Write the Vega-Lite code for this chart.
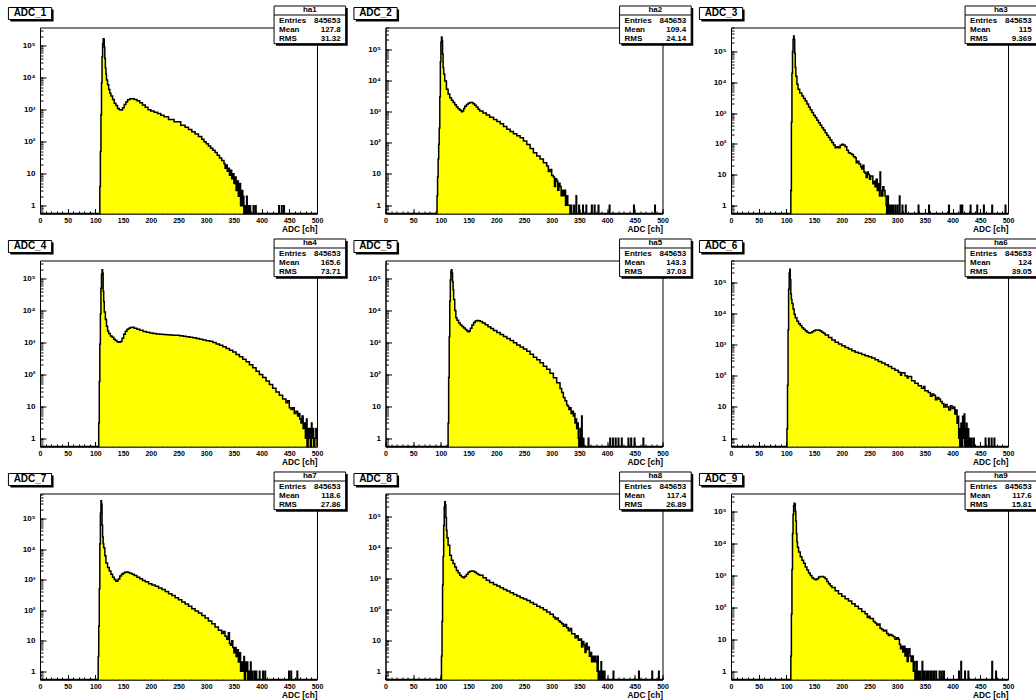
{
"$schema":"https://vega.github.io/schema/vega-lite/v6.json",
"padding":{"left":7,"top":4.5,"right":0,"bottom":0},
"background":"white",
"columns":3,
"spacing":{"row":47,"column":68.5},
"bounds":"flush",
"datasets":{
"st":[
{"p":1,"t":"ADC_1","h":"ha1","v":["845653","127.8","31.32"]},
{"p":2,"t":"ADC_2","h":"ha2","v":["845653","109.4","24.14"]},
{"p":3,"t":"ADC_3","h":"ha3","v":["845653","115","9.369"]},
{"p":4,"t":"ADC_4","h":"ha4","v":["845653","165.6","73.71"]},
{"p":5,"t":"ADC_5","h":"ha5","v":["845653","143.3","37.03"]},
{"p":6,"t":"ADC_6","h":"ha6","v":["845653","124","39.05"]},
{"p":7,"t":"ADC_7","h":"ha7","v":["845653","118.6","27.86"]},
{"p":8,"t":"ADC_8","h":"ha8","v":["845653","117.4","26.89"]},
{"p":9,"t":"ADC_9","h":"ha9","v":["845653","117.6","15.81"]}
],
"h1":[{"x":0,"n":0},{"x":107,"n":0},{"x":108,"n":4},{"x":109,"n":50},{"x":110,"n":700},{"x":111,"n":7000},{"x":112,"n":45000},{"x":113,"n":115000},{"x":114,"n":165000},{"x":115,"n":160000},{"x":116,"n":90000},{"x":117,"n":40000},{"x":118,"n":20000},{"x":119,"n":13000},{"x":120,"n":8500},{"x":122,"n":6000},{"x":124,"n":4300},{"x":126,"n":3300},{"x":128,"n":2700},{"x":131,"n":2100},{"x":134,"n":1600},{"x":137,"n":1350},{"x":140,"n":1100},{"x":143,"n":1000},{"x":146,"n":980},{"x":149,"n":1150},{"x":152,"n":1450},{"x":155,"n":1750},{"x":158,"n":2050},{"x":162,"n":2200},{"x":166,"n":2200},{"x":170,"n":2100},{"x":175,"n":1900},{"x":180,"n":1650},{"x":185,"n":1400},{"x":190,"n":1200},{"x":195,"n":1000},{"x":200,"n":920},{"x":206,"n":840},{"x":212,"n":760},{"x":218,"n":680},{"x":224,"n":610},{"x":232,"n":500},{"x":242,"n":420},{"x":254,"n":330},{"x":262,"n":285},{"x":268,"n":240},{"x":274,"n":205},{"x":280,"n":175},{"x":286,"n":145},{"x":292,"n":120},{"x":296,"n":100},{"x":300,"n":87},{"x":304,"n":74},{"x":308,"n":63},{"x":312,"n":54},{"x":316,"n":46},{"x":320,"n":38},{"x":324,"n":31},{"x":328,"n":26},{"x":332,"n":21},{"x":334,"n":15},{"x":336,"n":19},{"x":338,"n":12},{"x":340,"n":15},{"x":342,"n":9},{"x":344,"n":13},{"x":346,"n":7},{"x":348,"n":10},{"x":350,"n":5},{"x":352,"n":8},{"x":354,"n":3},{"x":356,"n":6},{"x":358,"n":2},{"x":360,"n":5},{"x":362,"n":1},{"x":364,"n":3},{"x":366,"n":1},{"x":367,"n":2},{"x":368,"n":0},{"x":370,"n":1},{"x":371,"n":0},{"x":373,"n":2},{"x":374,"n":0},{"x":376,"n":1},{"x":377,"n":0},{"x":379,"n":1},{"x":380,"n":0},{"x":385,"n":1},{"x":386,"n":0},{"x":389,"n":1},{"x":390,"n":0},{"x":431,"n":1},{"x":432,"n":0},{"x":436,"n":1},{"x":437,"n":0},{"x":440,"n":1},{"x":441,"n":0},{"x":500,"n":0}],
"h2":[{"x":0,"n":0},{"x":92,"n":0},{"x":93,"n":2},{"x":94,"n":8},{"x":95,"n":30},{"x":96,"n":90},{"x":97,"n":300},{"x":98,"n":3000},{"x":99,"n":40000},{"x":100,"n":170000},{"x":101,"n":250000},{"x":102,"n":190000},{"x":103,"n":70000},{"x":104,"n":26000},{"x":105,"n":16000},{"x":107,"n":9600},{"x":110,"n":5200},{"x":113,"n":3700},{"x":116,"n":2800},{"x":119,"n":2300},{"x":122,"n":1950},{"x":125,"n":1650},{"x":128,"n":1400},{"x":131,"n":1230},{"x":134,"n":1100},{"x":137,"n":1000},{"x":139,"n":1050},{"x":141,"n":1250},{"x":143,"n":1500},{"x":146,"n":1700},{"x":149,"n":1850},{"x":152,"n":1950},{"x":155,"n":1950},{"x":158,"n":1800},{"x":161,"n":1600},{"x":164,"n":1400},{"x":167,"n":1200},{"x":170,"n":1050},{"x":176,"n":900},{"x":182,"n":780},{"x":188,"n":660},{"x":195,"n":560},{"x":201,"n":480},{"x":207,"n":410},{"x":213,"n":335},{"x":219,"n":270},{"x":225,"n":230},{"x":231,"n":195},{"x":237,"n":170},{"x":243,"n":145},{"x":249,"n":115},{"x":255,"n":89},{"x":261,"n":66},{"x":267,"n":48},{"x":273,"n":38},{"x":279,"n":30},{"x":285,"n":23},{"x":291,"n":18},{"x":294,"n":12},{"x":297,"n":14},{"x":300,"n":9},{"x":303,"n":8},{"x":305,"n":4},{"x":307,"n":7},{"x":309,"n":6},{"x":311,"n":3},{"x":313,"n":5},{"x":315,"n":4},{"x":317,"n":2},{"x":319,"n":3},{"x":321,"n":2},{"x":323,"n":3},{"x":325,"n":1},{"x":327,"n":2},{"x":329,"n":1},{"x":331,"n":1},{"x":333,"n":0},{"x":335,"n":1},{"x":336,"n":0},{"x":340,"n":1},{"x":341,"n":0},{"x":344,"n":2},{"x":345,"n":0},{"x":349,"n":1},{"x":350,"n":0},{"x":356,"n":1},{"x":357,"n":0},{"x":362,"n":1},{"x":363,"n":0},{"x":372,"n":1},{"x":373,"n":0},{"x":377,"n":1},{"x":378,"n":0},{"x":384,"n":1},{"x":385,"n":0},{"x":404,"n":1},{"x":405,"n":0},{"x":448,"n":1},{"x":449,"n":0},{"x":486,"n":1},{"x":487,"n":0},{"x":500,"n":0}],
"h3":[{"x":0,"n":0},{"x":107,"n":0},{"x":108,"n":3},{"x":109,"n":500},{"x":110,"n":20000},{"x":111,"n":100000},{"x":112,"n":250000},{"x":113,"n":330000},{"x":114,"n":250000},{"x":115,"n":90000},{"x":116,"n":31000},{"x":117,"n":16000},{"x":119,"n":8800},{"x":121,"n":6000},{"x":124,"n":4500},{"x":128,"n":3600},{"x":131,"n":3000},{"x":134,"n":2500},{"x":137,"n":2000},{"x":140,"n":1600},{"x":143,"n":1300},{"x":146,"n":1050},{"x":149,"n":860},{"x":152,"n":715},{"x":155,"n":590},{"x":158,"n":490},{"x":161,"n":400},{"x":164,"n":335},{"x":167,"n":280},{"x":170,"n":230},{"x":173,"n":190},{"x":176,"n":160},{"x":179,"n":132},{"x":182,"n":110},{"x":185,"n":92},{"x":188,"n":75},{"x":191,"n":80},{"x":194,"n":75},{"x":197,"n":90},{"x":200,"n":96},{"x":203,"n":92},{"x":206,"n":80},{"x":209,"n":62},{"x":212,"n":51},{"x":215,"n":48},{"x":218,"n":45},{"x":221,"n":38},{"x":224,"n":35},{"x":226,"n":24},{"x":228,"n":27},{"x":231,"n":22},{"x":234,"n":18},{"x":236,"n":15},{"x":238,"n":20},{"x":240,"n":12},{"x":242,"n":11},{"x":244,"n":8},{"x":246,"n":12},{"x":248,"n":10},{"x":250,"n":7},{"x":252,"n":9},{"x":254,"n":9},{"x":256,"n":5},{"x":258,"n":6},{"x":260,"n":4},{"x":262,"n":7},{"x":264,"n":3},{"x":266,"n":5},{"x":268,"n":2},{"x":269,"n":12},{"x":270,"n":3},{"x":272,"n":2},{"x":274,"n":4},{"x":276,"n":3},{"x":278,"n":2},{"x":280,"n":1},{"x":281,"n":0},{"x":283,"n":2},{"x":284,"n":0},{"x":286,"n":1},{"x":287,"n":0},{"x":289,"n":1},{"x":290,"n":0},{"x":292,"n":1},{"x":293,"n":0},{"x":296,"n":1},{"x":297,"n":0},{"x":300,"n":1},{"x":301,"n":0},{"x":304,"n":2},{"x":305,"n":0},{"x":309,"n":1},{"x":310,"n":0},{"x":315,"n":1},{"x":316,"n":0},{"x":338,"n":1},{"x":339,"n":0},{"x":357,"n":1},{"x":358,"n":0},{"x":393,"n":1},{"x":394,"n":0},{"x":414,"n":1},{"x":415,"n":0},{"x":417,"n":1},{"x":418,"n":0},{"x":432,"n":1},{"x":433,"n":0},{"x":444,"n":1},{"x":445,"n":0},{"x":456,"n":1},{"x":457,"n":0},{"x":471,"n":1},{"x":472,"n":0},{"x":495,"n":1},{"x":496,"n":0},{"x":500,"n":0}],
"h4":[{"x":0,"n":0},{"x":105,"n":0},{"x":106,"n":3},{"x":107,"n":60},{"x":108,"n":900},{"x":109,"n":8000},{"x":110,"n":50000},{"x":111,"n":140000},{"x":112,"n":190000},{"x":113,"n":150000},{"x":114,"n":40000},{"x":115,"n":19000},{"x":116,"n":9000},{"x":118,"n":5200},{"x":120,"n":3200},{"x":122,"n":2300},{"x":124,"n":1900},{"x":127,"n":1600},{"x":130,"n":1450},{"x":133,"n":1250},{"x":136,"n":1150},{"x":139,"n":1060},{"x":142,"n":1020},{"x":145,"n":1080},{"x":148,"n":1350},{"x":151,"n":1800},{"x":154,"n":2250},{"x":157,"n":2600},{"x":160,"n":2800},{"x":163,"n":2950},{"x":166,"n":3000},{"x":170,"n":2800},{"x":175,"n":2600},{"x":180,"n":2400},{"x":186,"n":2200},{"x":192,"n":2100},{"x":198,"n":1980},{"x":204,"n":1920},{"x":210,"n":1850},{"x":216,"n":1800},{"x":222,"n":1770},{"x":228,"n":1740},{"x":234,"n":1700},{"x":240,"n":1690},{"x":246,"n":1670},{"x":252,"n":1620},{"x":258,"n":1570},{"x":264,"n":1520},{"x":270,"n":1460},{"x":276,"n":1400},{"x":282,"n":1320},{"x":288,"n":1260},{"x":294,"n":1200},{"x":300,"n":1140},{"x":306,"n":1090},{"x":312,"n":1000},{"x":318,"n":900},{"x":324,"n":820},{"x":330,"n":730},{"x":336,"n":650},{"x":342,"n":570},{"x":348,"n":500},{"x":354,"n":420},{"x":360,"n":360},{"x":366,"n":300},{"x":372,"n":250},{"x":378,"n":200},{"x":384,"n":160},{"x":390,"n":125},{"x":396,"n":100},{"x":402,"n":80},{"x":408,"n":62},{"x":414,"n":48},{"x":420,"n":37},{"x":426,"n":28},{"x":432,"n":22},{"x":438,"n":17},{"x":444,"n":13},{"x":447,"n":15},{"x":450,"n":9},{"x":453,"n":8},{"x":456,"n":9},{"x":459,"n":6},{"x":462,"n":7},{"x":465,"n":5},{"x":467,"n":6},{"x":469,"n":4},{"x":471,"n":3},{"x":473,"n":5},{"x":475,"n":2},{"x":477,"n":3},{"x":479,"n":1},{"x":481,"n":4},{"x":482,"n":0},{"x":484,"n":2},{"x":485,"n":1},{"x":487,"n":2},{"x":488,"n":0},{"x":490,"n":3},{"x":491,"n":1},{"x":493,"n":2},{"x":494,"n":0},{"x":496,"n":1},{"x":498,"n":2},{"x":499,"n":1},{"x":500,"n":0}],
"h5":[{"x":0,"n":0},{"x":112,"n":0},{"x":113,"n":3},{"x":114,"n":80},{"x":115,"n":1500},{"x":116,"n":20000},{"x":117,"n":90000},{"x":118,"n":170000},{"x":119,"n":190000},{"x":120,"n":150000},{"x":121,"n":80000},{"x":122,"n":45000},{"x":123,"n":22000},{"x":125,"n":10000},{"x":127,"n":6000},{"x":129,"n":5000},{"x":132,"n":4100},{"x":135,"n":3500},{"x":138,"n":3150},{"x":141,"n":2850},{"x":144,"n":2550},{"x":147,"n":2300},{"x":149,"n":2150},{"x":151,"n":2300},{"x":153,"n":2800},{"x":156,"n":3500},{"x":159,"n":4200},{"x":162,"n":4700},{"x":165,"n":4900},{"x":168,"n":4800},{"x":171,"n":4500},{"x":175,"n":4100},{"x":180,"n":3600},{"x":185,"n":3100},{"x":190,"n":2750},{"x":195,"n":2370},{"x":201,"n":2050},{"x":207,"n":1780},{"x":213,"n":1540},{"x":219,"n":1330},{"x":225,"n":1150},{"x":231,"n":980},{"x":237,"n":840},{"x":243,"n":715},{"x":249,"n":620},{"x":255,"n":535},{"x":261,"n":430},{"x":267,"n":347},{"x":273,"n":285},{"x":279,"n":230},{"x":285,"n":180},{"x":291,"n":144},{"x":297,"n":108},{"x":303,"n":79},{"x":309,"n":55},{"x":315,"n":36},{"x":318,"n":27},{"x":321,"n":19},{"x":324,"n":15},{"x":327,"n":11},{"x":329,"n":10},{"x":331,"n":8},{"x":333,"n":9},{"x":335,"n":6},{"x":337,"n":7},{"x":339,"n":5},{"x":341,"n":6},{"x":342,"n":3},{"x":344,"n":4},{"x":345,"n":2},{"x":347,"n":3},{"x":348,"n":1},{"x":349,"n":0},{"x":351,"n":2},{"x":352,"n":0},{"x":354,"n":5},{"x":355,"n":0},{"x":357,"n":1},{"x":358,"n":0},{"x":366,"n":1},{"x":367,"n":0},{"x":405,"n":1},{"x":406,"n":0},{"x":410,"n":1},{"x":411,"n":0},{"x":415,"n":1},{"x":416,"n":0},{"x":420,"n":1},{"x":421,"n":0},{"x":426,"n":1},{"x":427,"n":0},{"x":438,"n":1},{"x":439,"n":0},{"x":443,"n":1},{"x":444,"n":0},{"x":449,"n":1},{"x":450,"n":0},{"x":465,"n":1},{"x":466,"n":0},{"x":500,"n":0}],
"h6":[{"x":0,"n":0},{"x":100,"n":0},{"x":101,"n":2},{"x":102,"n":50},{"x":103,"n":3000},{"x":104,"n":60000},{"x":105,"n":200000},{"x":106,"n":260000},{"x":107,"n":120000},{"x":108,"n":42000},{"x":109,"n":28000},{"x":110,"n":21000},{"x":112,"n":14000},{"x":114,"n":9500},{"x":116,"n":7300},{"x":119,"n":5600},{"x":122,"n":4700},{"x":125,"n":4100},{"x":128,"n":3500},{"x":131,"n":3100},{"x":134,"n":2800},{"x":137,"n":2500},{"x":140,"n":2350},{"x":143,"n":2400},{"x":146,"n":2600},{"x":149,"n":2800},{"x":152,"n":2950},{"x":155,"n":2950},{"x":158,"n":2900},{"x":161,"n":2750},{"x":164,"n":2500},{"x":167,"n":2300},{"x":170,"n":2050},{"x":176,"n":1700},{"x":182,"n":1400},{"x":188,"n":1200},{"x":194,"n":1050},{"x":200,"n":920},{"x":206,"n":815},{"x":212,"n":720},{"x":218,"n":635},{"x":224,"n":575},{"x":230,"n":525},{"x":236,"n":480},{"x":242,"n":440},{"x":248,"n":405},{"x":254,"n":370},{"x":260,"n":330},{"x":266,"n":290},{"x":272,"n":258},{"x":278,"n":227},{"x":284,"n":198},{"x":290,"n":172},{"x":296,"n":150},{"x":302,"n":130},{"x":306,"n":105},{"x":308,"n":125},{"x":314,"n":100},{"x":318,"n":85},{"x":320,"n":95},{"x":326,"n":69},{"x":332,"n":58},{"x":338,"n":48},{"x":344,"n":40},{"x":348,"n":45},{"x":350,"n":33},{"x":356,"n":29},{"x":360,"n":22},{"x":363,"n":26},{"x":366,"n":24},{"x":369,"n":17},{"x":372,"n":20},{"x":375,"n":18},{"x":378,"n":15},{"x":381,"n":13},{"x":384,"n":10},{"x":387,"n":12},{"x":390,"n":10},{"x":393,"n":8},{"x":396,"n":11},{"x":399,"n":9},{"x":402,"n":10},{"x":404,"n":6},{"x":406,"n":8},{"x":408,"n":3},{"x":410,"n":5},{"x":411,"n":1},{"x":412,"n":2},{"x":413,"n":0},{"x":415,"n":3},{"x":416,"n":0},{"x":418,"n":5},{"x":419,"n":1},{"x":421,"n":6},{"x":422,"n":0},{"x":424,"n":2},{"x":425,"n":3},{"x":426,"n":0},{"x":428,"n":2},{"x":429,"n":0},{"x":431,"n":1},{"x":432,"n":0},{"x":434,"n":1},{"x":435,"n":0},{"x":438,"n":1},{"x":439,"n":0},{"x":459,"n":1},{"x":460,"n":0},{"x":465,"n":1},{"x":466,"n":0},{"x":470,"n":1},{"x":471,"n":0},{"x":475,"n":1},{"x":476,"n":0},{"x":500,"n":0}],
"h7":[{"x":0,"n":0},{"x":104,"n":0},{"x":105,"n":3},{"x":106,"n":30},{"x":107,"n":500},{"x":108,"n":15000},{"x":109,"n":150000},{"x":110,"n":380000},{"x":111,"n":300000},{"x":112,"n":60000},{"x":113,"n":25000},{"x":114,"n":15000},{"x":115,"n":11000},{"x":117,"n":6000},{"x":119,"n":3500},{"x":122,"n":2500},{"x":125,"n":1900},{"x":128,"n":1500},{"x":131,"n":1200},{"x":134,"n":1000},{"x":137,"n":880},{"x":139,"n":900},{"x":141,"n":1050},{"x":144,"n":1300},{"x":147,"n":1500},{"x":150,"n":1650},{"x":153,"n":1750},{"x":156,"n":1780},{"x":159,"n":1700},{"x":162,"n":1600},{"x":166,"n":1490},{"x":170,"n":1350},{"x":175,"n":1200},{"x":180,"n":1060},{"x":185,"n":940},{"x":190,"n":850},{"x":196,"n":735},{"x":202,"n":670},{"x":208,"n":600},{"x":214,"n":530},{"x":220,"n":470},{"x":226,"n":410},{"x":232,"n":346},{"x":238,"n":300},{"x":244,"n":256},{"x":250,"n":220},{"x":256,"n":184},{"x":262,"n":158},{"x":268,"n":133},{"x":274,"n":110},{"x":280,"n":93},{"x":286,"n":80},{"x":292,"n":67},{"x":298,"n":55},{"x":304,"n":44},{"x":310,"n":36},{"x":316,"n":28},{"x":322,"n":22},{"x":328,"n":17},{"x":331,"n":20},{"x":334,"n":14},{"x":337,"n":11},{"x":340,"n":18},{"x":342,"n":8},{"x":344,"n":7},{"x":346,"n":10},{"x":348,"n":6},{"x":350,"n":4},{"x":352,"n":6},{"x":354,"n":3},{"x":356,"n":5},{"x":358,"n":2},{"x":360,"n":4},{"x":362,"n":1},{"x":364,"n":2},{"x":366,"n":1},{"x":368,"n":3},{"x":369,"n":0},{"x":371,"n":2},{"x":372,"n":1},{"x":374,"n":2},{"x":375,"n":0},{"x":377,"n":1},{"x":378,"n":0},{"x":380,"n":2},{"x":381,"n":0},{"x":383,"n":1},{"x":384,"n":0},{"x":387,"n":1},{"x":388,"n":0},{"x":390,"n":1},{"x":391,"n":0},{"x":396,"n":1},{"x":397,"n":0},{"x":402,"n":1},{"x":403,"n":0},{"x":406,"n":1},{"x":407,"n":0},{"x":449,"n":1},{"x":450,"n":0},{"x":453,"n":1},{"x":454,"n":0},{"x":464,"n":1},{"x":465,"n":0},{"x":500,"n":0}],
"h8":[{"x":0,"n":0},{"x":100,"n":0},{"x":101,"n":3},{"x":102,"n":40},{"x":103,"n":600},{"x":104,"n":5000},{"x":105,"n":50000},{"x":106,"n":200000},{"x":107,"n":290000},{"x":108,"n":230000},{"x":109,"n":90000},{"x":110,"n":35000},{"x":111,"n":20000},{"x":113,"n":11500},{"x":116,"n":5500},{"x":119,"n":3800},{"x":122,"n":2950},{"x":125,"n":2300},{"x":128,"n":1780},{"x":131,"n":1500},{"x":134,"n":1240},{"x":137,"n":1120},{"x":140,"n":1040},{"x":143,"n":1150},{"x":146,"n":1350},{"x":149,"n":1550},{"x":152,"n":1660},{"x":155,"n":1700},{"x":158,"n":1660},{"x":161,"n":1550},{"x":164,"n":1420},{"x":167,"n":1320},{"x":170,"n":1240},{"x":176,"n":1030},{"x":182,"n":850},{"x":188,"n":730},{"x":195,"n":630},{"x":201,"n":560},{"x":207,"n":495},{"x":213,"n":435},{"x":219,"n":385},{"x":225,"n":340},{"x":231,"n":300},{"x":237,"n":265},{"x":243,"n":235},{"x":249,"n":212},{"x":255,"n":192},{"x":261,"n":165},{"x":267,"n":143},{"x":273,"n":125},{"x":279,"n":111},{"x":285,"n":95},{"x":291,"n":81},{"x":297,"n":68},{"x":303,"n":56},{"x":306,"n":48},{"x":309,"n":52},{"x":312,"n":42},{"x":315,"n":38},{"x":318,"n":34},{"x":321,"n":28},{"x":324,"n":32},{"x":327,"n":25},{"x":330,"n":20},{"x":333,"n":24},{"x":336,"n":16},{"x":339,"n":16},{"x":342,"n":12},{"x":345,"n":14},{"x":348,"n":10},{"x":351,"n":11},{"x":354,"n":6},{"x":356,"n":9},{"x":358,"n":7},{"x":360,"n":4},{"x":362,"n":8},{"x":364,"n":5},{"x":366,"n":6},{"x":368,"n":3},{"x":370,"n":4},{"x":372,"n":2},{"x":374,"n":3},{"x":376,"n":2},{"x":378,"n":3},{"x":380,"n":2},{"x":382,"n":1},{"x":383,"n":3},{"x":384,"n":0},{"x":386,"n":1},{"x":387,"n":0},{"x":389,"n":2},{"x":390,"n":0},{"x":392,"n":1},{"x":393,"n":0},{"x":395,"n":1},{"x":396,"n":0},{"x":411,"n":1},{"x":412,"n":0},{"x":457,"n":1},{"x":458,"n":0},{"x":481,"n":1},{"x":482,"n":0},{"x":493,"n":1},{"x":494,"n":0},{"x":500,"n":0}],
"h9":[{"x":0,"n":0},{"x":107,"n":0},{"x":108,"n":3},{"x":109,"n":60},{"x":110,"n":1500},{"x":111,"n":20000},{"x":112,"n":80000},{"x":113,"n":150000},{"x":114,"n":180000},{"x":115,"n":170000},{"x":116,"n":100000},{"x":117,"n":50000},{"x":118,"n":20000},{"x":119,"n":11000},{"x":120,"n":7500},{"x":122,"n":5300},{"x":125,"n":3800},{"x":128,"n":2930},{"x":131,"n":2350},{"x":134,"n":1800},{"x":137,"n":1450},{"x":140,"n":1170},{"x":143,"n":980},{"x":146,"n":830},{"x":149,"n":760},{"x":152,"n":720},{"x":155,"n":780},{"x":158,"n":880},{"x":161,"n":910},{"x":164,"n":915},{"x":167,"n":870},{"x":170,"n":780},{"x":173,"n":640},{"x":176,"n":540},{"x":179,"n":470},{"x":182,"n":410},{"x":188,"n":330},{"x":194,"n":263},{"x":200,"n":220},{"x":206,"n":185},{"x":212,"n":155},{"x":218,"n":129},{"x":224,"n":108},{"x":230,"n":89},{"x":236,"n":74},{"x":242,"n":62},{"x":246,"n":48},{"x":248,"n":52},{"x":251,"n":44},{"x":254,"n":44},{"x":257,"n":36},{"x":260,"n":32},{"x":263,"n":28},{"x":266,"n":30},{"x":269,"n":22},{"x":272,"n":20},{"x":275,"n":18},{"x":278,"n":19},{"x":281,"n":15},{"x":284,"n":13},{"x":287,"n":14},{"x":290,"n":13},{"x":293,"n":12},{"x":296,"n":10},{"x":299,"n":11},{"x":302,"n":10},{"x":304,"n":7},{"x":306,"n":5},{"x":308,"n":6},{"x":310,"n":4},{"x":312,"n":6},{"x":314,"n":3},{"x":316,"n":5},{"x":318,"n":2},{"x":320,"n":4},{"x":321,"n":5},{"x":323,"n":3},{"x":325,"n":2},{"x":327,"n":3},{"x":329,"n":1},{"x":331,"n":2},{"x":332,"n":0},{"x":334,"n":1},{"x":335,"n":2},{"x":336,"n":0},{"x":338,"n":1},{"x":339,"n":0},{"x":341,"n":1},{"x":342,"n":0},{"x":345,"n":2},{"x":346,"n":0},{"x":348,"n":1},{"x":349,"n":0},{"x":352,"n":1},{"x":353,"n":0},{"x":355,"n":1},{"x":356,"n":0},{"x":359,"n":1},{"x":360,"n":0},{"x":362,"n":1},{"x":363,"n":0},{"x":366,"n":1},{"x":367,"n":0},{"x":370,"n":1},{"x":371,"n":0},{"x":376,"n":1},{"x":377,"n":0},{"x":380,"n":1},{"x":381,"n":0},{"x":384,"n":1},{"x":385,"n":0},{"x":411,"n":1},{"x":412,"n":0},{"x":415,"n":2},{"x":416,"n":0},{"x":422,"n":1},{"x":423,"n":0},{"x":428,"n":1},{"x":429,"n":0},{"x":471,"n":2},{"x":472,"n":0},{"x":478,"n":1},{"x":479,"n":0},{"x":500,"n":0}]
},
"concat":[
{"width":277,"height":186,"layer":[
 {"data":{"name":"h1"},"layer":[
  {"mark":{"type":"area","color":"#ffff00","interpolate":"step-after","invalid":null},"encoding":{"x":{"field":"x","type":"quantitative","scale":{"domain":[0,500],"nice":false,"zero":false},"axis":{"title":"ADC [ch]","orient":"bottom"}},"y":{"field":"n","type":"quantitative","stack":null,"scale":{"type":"log","domain":[0.577,370000],"nice":false,"clamp":true},"axis":{"title":null,"orient":"left","values":[1,10,100,1000,10000,100000],"labelExpr":"datum.value<5?'1':datum.value<50?'10':'10'+['²','³','⁴','⁵'][round(log(datum.value)/LN10)-2]"}}}},
  {"mark":{"type":"line","color":"black","strokeWidth":1.5,"interpolate":"step-after","invalid":null},"encoding":{"x":{"field":"x","type":"quantitative","axis":{"orient":"bottom","title":null,"labels":false,"domain":false,"tickCount":50,"tickSize":-2.5}},"y":{"field":"n","type":"quantitative","axis":{"orient":"left","title":null,"labels":false,"domain":false,"tickCount":20,"tickSize":-3}}}}
 ],"resolve":{"axis":{"x":"independent","y":"independent"}}},
 {"data":{"name":"st"},"transform":[{"filter":"datum.p==1"}],"layer":[
  {"mark":{"type":"rect","color":"black"},"encoding":{"x":{"datum":0.852,"scale":{"domain":[0,1]},"axis":null},"x2":{"datum":1.111},"y":{"datum":1.1048,"scale":{"domain":[0,1]},"axis":null},"y2":{"datum":0.902}}},
  {"mark":{"type":"rect","fill":"white","stroke":"black","strokeWidth":1},"encoding":{"x":{"datum":0.845,"axis":null},"x2":{"datum":1.1036},"y":{"datum":1.1156,"axis":null},"y2":{"datum":0.913}}},
  {"mark":{"type":"rule","color":"black","strokeWidth":1},"encoding":{"x":{"datum":0.845,"axis":null},"x2":{"datum":1.1036},"y":{"datum":1.0672,"axis":null}}},
  {"mark":{"type":"text","align":"center","baseline":"middle"},"encoding":{"x":{"datum":0.974,"axis":null},"y":{"datum":1.094,"axis":null},"text":{"field":"h","type":"nominal"}}},
  {"mark":{"type":"text","align":"left","baseline":"alphabetic","lineHeight":9},"encoding":{"x":{"datum":0.863,"axis":null},"y":{"datum":1.023,"axis":null},"text":{"value":["Entries","Mean","RMS"]}}},
  {"mark":{"type":"text","align":"right","baseline":"alphabetic","lineHeight":9},"encoding":{"x":{"datum":1.0856,"axis":null},"y":{"datum":1.023,"axis":null},"text":{"field":"v","type":"nominal"}}},
  {"mark":{"type":"rect","color":"black"},"encoding":{"x":{"datum":-0.107,"axis":null},"x2":{"datum":0.049},"y":{"datum":1.0968,"axis":null},"y2":{"datum":1.0323}}},
  {"mark":{"type":"rect","fill":"white","stroke":"black","strokeWidth":1},"encoding":{"x":{"datum":-0.114,"axis":null},"x2":{"datum":0.042},"y":{"datum":1.1075,"axis":null},"y2":{"datum":1.043}}},
  {"mark":{"type":"text","align":"center","baseline":"alphabetic","fontSize":10},"encoding":{"x":{"datum":-0.036,"axis":null},"y":{"datum":1.0645,"axis":null},"text":{"field":"t","type":"nominal"}}}
 ]}
],"resolve":{"scale":{"x":"independent","y":"independent"}}},
{"width":277,"height":186,"layer":[
 {"data":{"name":"h2"},"layer":[
  {"mark":{"type":"area","color":"#ffff00","interpolate":"step-after","invalid":null},"encoding":{"x":{"field":"x","type":"quantitative","scale":{"domain":[0,500],"nice":false,"zero":false},"axis":{"title":"ADC [ch]","orient":"bottom"}},"y":{"field":"n","type":"quantitative","stack":null,"scale":{"type":"log","domain":[0.54,500000],"nice":false,"clamp":true},"axis":{"title":null,"orient":"left","values":[1,10,100,1000,10000,100000],"labelExpr":"datum.value<5?'1':datum.value<50?'10':'10'+['²','³','⁴','⁵'][round(log(datum.value)/LN10)-2]"}}}},
  {"mark":{"type":"line","color":"black","strokeWidth":1.5,"interpolate":"step-after","invalid":null},"encoding":{"x":{"field":"x","type":"quantitative","axis":{"orient":"bottom","title":null,"labels":false,"domain":false,"tickCount":50,"tickSize":-2.5}},"y":{"field":"n","type":"quantitative","axis":{"orient":"left","title":null,"labels":false,"domain":false,"tickCount":20,"tickSize":-3}}}}
 ],"resolve":{"axis":{"x":"independent","y":"independent"}}},
 {"data":{"name":"st"},"transform":[{"filter":"datum.p==2"}],"layer":[
  {"mark":{"type":"rect","color":"black"},"encoding":{"x":{"datum":0.852,"scale":{"domain":[0,1]},"axis":null},"x2":{"datum":1.111},"y":{"datum":1.1048,"scale":{"domain":[0,1]},"axis":null},"y2":{"datum":0.902}}},
  {"mark":{"type":"rect","fill":"white","stroke":"black","strokeWidth":1},"encoding":{"x":{"datum":0.845,"axis":null},"x2":{"datum":1.1036},"y":{"datum":1.1156,"axis":null},"y2":{"datum":0.913}}},
  {"mark":{"type":"rule","color":"black","strokeWidth":1},"encoding":{"x":{"datum":0.845,"axis":null},"x2":{"datum":1.1036},"y":{"datum":1.0672,"axis":null}}},
  {"mark":{"type":"text","align":"center","baseline":"middle"},"encoding":{"x":{"datum":0.974,"axis":null},"y":{"datum":1.094,"axis":null},"text":{"field":"h","type":"nominal"}}},
  {"mark":{"type":"text","align":"left","baseline":"alphabetic","lineHeight":9},"encoding":{"x":{"datum":0.863,"axis":null},"y":{"datum":1.023,"axis":null},"text":{"value":["Entries","Mean","RMS"]}}},
  {"mark":{"type":"text","align":"right","baseline":"alphabetic","lineHeight":9},"encoding":{"x":{"datum":1.0856,"axis":null},"y":{"datum":1.023,"axis":null},"text":{"field":"v","type":"nominal"}}},
  {"mark":{"type":"rect","color":"black"},"encoding":{"x":{"datum":-0.107,"axis":null},"x2":{"datum":0.049},"y":{"datum":1.0968,"axis":null},"y2":{"datum":1.0323}}},
  {"mark":{"type":"rect","fill":"white","stroke":"black","strokeWidth":1},"encoding":{"x":{"datum":-0.114,"axis":null},"x2":{"datum":0.042},"y":{"datum":1.1075,"axis":null},"y2":{"datum":1.043}}},
  {"mark":{"type":"text","align":"center","baseline":"alphabetic","fontSize":10},"encoding":{"x":{"datum":-0.036,"axis":null},"y":{"datum":1.0645,"axis":null},"text":{"field":"t","type":"nominal"}}}
 ]}
],"resolve":{"scale":{"x":"independent","y":"independent"}}},
{"width":277,"height":186,"layer":[
 {"data":{"name":"h3"},"layer":[
  {"mark":{"type":"area","color":"#ffff00","interpolate":"step-after","invalid":null},"encoding":{"x":{"field":"x","type":"quantitative","scale":{"domain":[0,500],"nice":false,"zero":false},"axis":{"title":"ADC [ch]","orient":"bottom"}},"y":{"field":"n","type":"quantitative","stack":null,"scale":{"type":"log","domain":[0.534,620000],"nice":false,"clamp":true},"axis":{"title":null,"orient":"left","values":[1,10,100,1000,10000,100000],"labelExpr":"datum.value<5?'1':datum.value<50?'10':'10'+['²','³','⁴','⁵'][round(log(datum.value)/LN10)-2]"}}}},
  {"mark":{"type":"line","color":"black","strokeWidth":1.5,"interpolate":"step-after","invalid":null},"encoding":{"x":{"field":"x","type":"quantitative","axis":{"orient":"bottom","title":null,"labels":false,"domain":false,"tickCount":50,"tickSize":-2.5}},"y":{"field":"n","type":"quantitative","axis":{"orient":"left","title":null,"labels":false,"domain":false,"tickCount":20,"tickSize":-3}}}}
 ],"resolve":{"axis":{"x":"independent","y":"independent"}}},
 {"data":{"name":"st"},"transform":[{"filter":"datum.p==3"}],"layer":[
  {"mark":{"type":"rect","color":"black"},"encoding":{"x":{"datum":0.852,"scale":{"domain":[0,1]},"axis":null},"x2":{"datum":1.111},"y":{"datum":1.1048,"scale":{"domain":[0,1]},"axis":null},"y2":{"datum":0.902}}},
  {"mark":{"type":"rect","fill":"white","stroke":"black","strokeWidth":1},"encoding":{"x":{"datum":0.845,"axis":null},"x2":{"datum":1.1036},"y":{"datum":1.1156,"axis":null},"y2":{"datum":0.913}}},
  {"mark":{"type":"rule","color":"black","strokeWidth":1},"encoding":{"x":{"datum":0.845,"axis":null},"x2":{"datum":1.1036},"y":{"datum":1.0672,"axis":null}}},
  {"mark":{"type":"text","align":"center","baseline":"middle"},"encoding":{"x":{"datum":0.974,"axis":null},"y":{"datum":1.094,"axis":null},"text":{"field":"h","type":"nominal"}}},
  {"mark":{"type":"text","align":"left","baseline":"alphabetic","lineHeight":9},"encoding":{"x":{"datum":0.863,"axis":null},"y":{"datum":1.023,"axis":null},"text":{"value":["Entries","Mean","RMS"]}}},
  {"mark":{"type":"text","align":"right","baseline":"alphabetic","lineHeight":9},"encoding":{"x":{"datum":1.0856,"axis":null},"y":{"datum":1.023,"axis":null},"text":{"field":"v","type":"nominal"}}},
  {"mark":{"type":"rect","color":"black"},"encoding":{"x":{"datum":-0.107,"axis":null},"x2":{"datum":0.049},"y":{"datum":1.0968,"axis":null},"y2":{"datum":1.0323}}},
  {"mark":{"type":"rect","fill":"white","stroke":"black","strokeWidth":1},"encoding":{"x":{"datum":-0.114,"axis":null},"x2":{"datum":0.042},"y":{"datum":1.1075,"axis":null},"y2":{"datum":1.043}}},
  {"mark":{"type":"text","align":"center","baseline":"alphabetic","fontSize":10},"encoding":{"x":{"datum":-0.036,"axis":null},"y":{"datum":1.0645,"axis":null},"text":{"field":"t","type":"nominal"}}}
 ]}
],"resolve":{"scale":{"x":"independent","y":"independent"}}},
{"width":277,"height":186,"layer":[
 {"data":{"name":"h4"},"layer":[
  {"mark":{"type":"area","color":"#ffff00","interpolate":"step-after","invalid":null},"encoding":{"x":{"field":"x","type":"quantitative","scale":{"domain":[0,500],"nice":false,"zero":false},"axis":{"title":"ADC [ch]","orient":"bottom"}},"y":{"field":"n","type":"quantitative","stack":null,"scale":{"type":"log","domain":[0.55,370000],"nice":false,"clamp":true},"axis":{"title":null,"orient":"left","values":[1,10,100,1000,10000,100000],"labelExpr":"datum.value<5?'1':datum.value<50?'10':'10'+['²','³','⁴','⁵'][round(log(datum.value)/LN10)-2]"}}}},
  {"mark":{"type":"line","color":"black","strokeWidth":1.5,"interpolate":"step-after","invalid":null},"encoding":{"x":{"field":"x","type":"quantitative","axis":{"orient":"bottom","title":null,"labels":false,"domain":false,"tickCount":50,"tickSize":-2.5}},"y":{"field":"n","type":"quantitative","axis":{"orient":"left","title":null,"labels":false,"domain":false,"tickCount":20,"tickSize":-3}}}}
 ],"resolve":{"axis":{"x":"independent","y":"independent"}}},
 {"data":{"name":"st"},"transform":[{"filter":"datum.p==4"}],"layer":[
  {"mark":{"type":"rect","color":"black"},"encoding":{"x":{"datum":0.852,"scale":{"domain":[0,1]},"axis":null},"x2":{"datum":1.111},"y":{"datum":1.1048,"scale":{"domain":[0,1]},"axis":null},"y2":{"datum":0.902}}},
  {"mark":{"type":"rect","fill":"white","stroke":"black","strokeWidth":1},"encoding":{"x":{"datum":0.845,"axis":null},"x2":{"datum":1.1036},"y":{"datum":1.1156,"axis":null},"y2":{"datum":0.913}}},
  {"mark":{"type":"rule","color":"black","strokeWidth":1},"encoding":{"x":{"datum":0.845,"axis":null},"x2":{"datum":1.1036},"y":{"datum":1.0672,"axis":null}}},
  {"mark":{"type":"text","align":"center","baseline":"middle"},"encoding":{"x":{"datum":0.974,"axis":null},"y":{"datum":1.094,"axis":null},"text":{"field":"h","type":"nominal"}}},
  {"mark":{"type":"text","align":"left","baseline":"alphabetic","lineHeight":9},"encoding":{"x":{"datum":0.863,"axis":null},"y":{"datum":1.023,"axis":null},"text":{"value":["Entries","Mean","RMS"]}}},
  {"mark":{"type":"text","align":"right","baseline":"alphabetic","lineHeight":9},"encoding":{"x":{"datum":1.0856,"axis":null},"y":{"datum":1.023,"axis":null},"text":{"field":"v","type":"nominal"}}},
  {"mark":{"type":"rect","color":"black"},"encoding":{"x":{"datum":-0.107,"axis":null},"x2":{"datum":0.049},"y":{"datum":1.0968,"axis":null},"y2":{"datum":1.0323}}},
  {"mark":{"type":"rect","fill":"white","stroke":"black","strokeWidth":1},"encoding":{"x":{"datum":-0.114,"axis":null},"x2":{"datum":0.042},"y":{"datum":1.1075,"axis":null},"y2":{"datum":1.043}}},
  {"mark":{"type":"text","align":"center","baseline":"alphabetic","fontSize":10},"encoding":{"x":{"datum":-0.036,"axis":null},"y":{"datum":1.0645,"axis":null},"text":{"field":"t","type":"nominal"}}}
 ]}
],"resolve":{"scale":{"x":"independent","y":"independent"}}},
{"width":277,"height":186,"layer":[
 {"data":{"name":"h5"},"layer":[
  {"mark":{"type":"area","color":"#ffff00","interpolate":"step-after","invalid":null},"encoding":{"x":{"field":"x","type":"quantitative","scale":{"domain":[0,500],"nice":false,"zero":false},"axis":{"title":"ADC [ch]","orient":"bottom"}},"y":{"field":"n","type":"quantitative","stack":null,"scale":{"type":"log","domain":[0.55,370000],"nice":false,"clamp":true},"axis":{"title":null,"orient":"left","values":[1,10,100,1000,10000,100000],"labelExpr":"datum.value<5?'1':datum.value<50?'10':'10'+['²','³','⁴','⁵'][round(log(datum.value)/LN10)-2]"}}}},
  {"mark":{"type":"line","color":"black","strokeWidth":1.5,"interpolate":"step-after","invalid":null},"encoding":{"x":{"field":"x","type":"quantitative","axis":{"orient":"bottom","title":null,"labels":false,"domain":false,"tickCount":50,"tickSize":-2.5}},"y":{"field":"n","type":"quantitative","axis":{"orient":"left","title":null,"labels":false,"domain":false,"tickCount":20,"tickSize":-3}}}}
 ],"resolve":{"axis":{"x":"independent","y":"independent"}}},
 {"data":{"name":"st"},"transform":[{"filter":"datum.p==5"}],"layer":[
  {"mark":{"type":"rect","color":"black"},"encoding":{"x":{"datum":0.852,"scale":{"domain":[0,1]},"axis":null},"x2":{"datum":1.111},"y":{"datum":1.1048,"scale":{"domain":[0,1]},"axis":null},"y2":{"datum":0.902}}},
  {"mark":{"type":"rect","fill":"white","stroke":"black","strokeWidth":1},"encoding":{"x":{"datum":0.845,"axis":null},"x2":{"datum":1.1036},"y":{"datum":1.1156,"axis":null},"y2":{"datum":0.913}}},
  {"mark":{"type":"rule","color":"black","strokeWidth":1},"encoding":{"x":{"datum":0.845,"axis":null},"x2":{"datum":1.1036},"y":{"datum":1.0672,"axis":null}}},
  {"mark":{"type":"text","align":"center","baseline":"middle"},"encoding":{"x":{"datum":0.974,"axis":null},"y":{"datum":1.094,"axis":null},"text":{"field":"h","type":"nominal"}}},
  {"mark":{"type":"text","align":"left","baseline":"alphabetic","lineHeight":9},"encoding":{"x":{"datum":0.863,"axis":null},"y":{"datum":1.023,"axis":null},"text":{"value":["Entries","Mean","RMS"]}}},
  {"mark":{"type":"text","align":"right","baseline":"alphabetic","lineHeight":9},"encoding":{"x":{"datum":1.0856,"axis":null},"y":{"datum":1.023,"axis":null},"text":{"field":"v","type":"nominal"}}},
  {"mark":{"type":"rect","color":"black"},"encoding":{"x":{"datum":-0.107,"axis":null},"x2":{"datum":0.049},"y":{"datum":1.0968,"axis":null},"y2":{"datum":1.0323}}},
  {"mark":{"type":"rect","fill":"white","stroke":"black","strokeWidth":1},"encoding":{"x":{"datum":-0.114,"axis":null},"x2":{"datum":0.042},"y":{"datum":1.1075,"axis":null},"y2":{"datum":1.043}}},
  {"mark":{"type":"text","align":"center","baseline":"alphabetic","fontSize":10},"encoding":{"x":{"datum":-0.036,"axis":null},"y":{"datum":1.0645,"axis":null},"text":{"field":"t","type":"nominal"}}}
 ]}
],"resolve":{"scale":{"x":"independent","y":"independent"}}},
{"width":277,"height":186,"layer":[
 {"data":{"name":"h6"},"layer":[
  {"mark":{"type":"area","color":"#ffff00","interpolate":"step-after","invalid":null},"encoding":{"x":{"field":"x","type":"quantitative","scale":{"domain":[0,500],"nice":false,"zero":false},"axis":{"title":"ADC [ch]","orient":"bottom"}},"y":{"field":"n","type":"quantitative","stack":null,"scale":{"type":"log","domain":[0.54,500000],"nice":false,"clamp":true},"axis":{"title":null,"orient":"left","values":[1,10,100,1000,10000,100000],"labelExpr":"datum.value<5?'1':datum.value<50?'10':'10'+['²','³','⁴','⁵'][round(log(datum.value)/LN10)-2]"}}}},
  {"mark":{"type":"line","color":"black","strokeWidth":1.5,"interpolate":"step-after","invalid":null},"encoding":{"x":{"field":"x","type":"quantitative","axis":{"orient":"bottom","title":null,"labels":false,"domain":false,"tickCount":50,"tickSize":-2.5}},"y":{"field":"n","type":"quantitative","axis":{"orient":"left","title":null,"labels":false,"domain":false,"tickCount":20,"tickSize":-3}}}}
 ],"resolve":{"axis":{"x":"independent","y":"independent"}}},
 {"data":{"name":"st"},"transform":[{"filter":"datum.p==6"}],"layer":[
  {"mark":{"type":"rect","color":"black"},"encoding":{"x":{"datum":0.852,"scale":{"domain":[0,1]},"axis":null},"x2":{"datum":1.111},"y":{"datum":1.1048,"scale":{"domain":[0,1]},"axis":null},"y2":{"datum":0.902}}},
  {"mark":{"type":"rect","fill":"white","stroke":"black","strokeWidth":1},"encoding":{"x":{"datum":0.845,"axis":null},"x2":{"datum":1.1036},"y":{"datum":1.1156,"axis":null},"y2":{"datum":0.913}}},
  {"mark":{"type":"rule","color":"black","strokeWidth":1},"encoding":{"x":{"datum":0.845,"axis":null},"x2":{"datum":1.1036},"y":{"datum":1.0672,"axis":null}}},
  {"mark":{"type":"text","align":"center","baseline":"middle"},"encoding":{"x":{"datum":0.974,"axis":null},"y":{"datum":1.094,"axis":null},"text":{"field":"h","type":"nominal"}}},
  {"mark":{"type":"text","align":"left","baseline":"alphabetic","lineHeight":9},"encoding":{"x":{"datum":0.863,"axis":null},"y":{"datum":1.023,"axis":null},"text":{"value":["Entries","Mean","RMS"]}}},
  {"mark":{"type":"text","align":"right","baseline":"alphabetic","lineHeight":9},"encoding":{"x":{"datum":1.0856,"axis":null},"y":{"datum":1.023,"axis":null},"text":{"field":"v","type":"nominal"}}},
  {"mark":{"type":"rect","color":"black"},"encoding":{"x":{"datum":-0.107,"axis":null},"x2":{"datum":0.049},"y":{"datum":1.0968,"axis":null},"y2":{"datum":1.0323}}},
  {"mark":{"type":"rect","fill":"white","stroke":"black","strokeWidth":1},"encoding":{"x":{"datum":-0.114,"axis":null},"x2":{"datum":0.042},"y":{"datum":1.1075,"axis":null},"y2":{"datum":1.043}}},
  {"mark":{"type":"text","align":"center","baseline":"alphabetic","fontSize":10},"encoding":{"x":{"datum":-0.036,"axis":null},"y":{"datum":1.0645,"axis":null},"text":{"field":"t","type":"nominal"}}}
 ]}
],"resolve":{"scale":{"x":"independent","y":"independent"}}},
{"width":277,"height":186,"layer":[
 {"data":{"name":"h7"},"layer":[
  {"mark":{"type":"area","color":"#ffff00","interpolate":"step-after","invalid":null},"encoding":{"x":{"field":"x","type":"quantitative","scale":{"domain":[0,500],"nice":false,"zero":false},"axis":{"title":"ADC [ch]","orient":"bottom"}},"y":{"field":"n","type":"quantitative","stack":null,"scale":{"type":"log","domain":[0.533,660000],"nice":false,"clamp":true},"axis":{"title":null,"orient":"left","values":[1,10,100,1000,10000,100000],"labelExpr":"datum.value<5?'1':datum.value<50?'10':'10'+['²','³','⁴','⁵'][round(log(datum.value)/LN10)-2]"}}}},
  {"mark":{"type":"line","color":"black","strokeWidth":1.5,"interpolate":"step-after","invalid":null},"encoding":{"x":{"field":"x","type":"quantitative","axis":{"orient":"bottom","title":null,"labels":false,"domain":false,"tickCount":50,"tickSize":-2.5}},"y":{"field":"n","type":"quantitative","axis":{"orient":"left","title":null,"labels":false,"domain":false,"tickCount":20,"tickSize":-3}}}}
 ],"resolve":{"axis":{"x":"independent","y":"independent"}}},
 {"data":{"name":"st"},"transform":[{"filter":"datum.p==7"}],"layer":[
  {"mark":{"type":"rect","color":"black"},"encoding":{"x":{"datum":0.852,"scale":{"domain":[0,1]},"axis":null},"x2":{"datum":1.111},"y":{"datum":1.1048,"scale":{"domain":[0,1]},"axis":null},"y2":{"datum":0.902}}},
  {"mark":{"type":"rect","fill":"white","stroke":"black","strokeWidth":1},"encoding":{"x":{"datum":0.845,"axis":null},"x2":{"datum":1.1036},"y":{"datum":1.1156,"axis":null},"y2":{"datum":0.913}}},
  {"mark":{"type":"rule","color":"black","strokeWidth":1},"encoding":{"x":{"datum":0.845,"axis":null},"x2":{"datum":1.1036},"y":{"datum":1.0672,"axis":null}}},
  {"mark":{"type":"text","align":"center","baseline":"middle"},"encoding":{"x":{"datum":0.974,"axis":null},"y":{"datum":1.094,"axis":null},"text":{"field":"h","type":"nominal"}}},
  {"mark":{"type":"text","align":"left","baseline":"alphabetic","lineHeight":9},"encoding":{"x":{"datum":0.863,"axis":null},"y":{"datum":1.023,"axis":null},"text":{"value":["Entries","Mean","RMS"]}}},
  {"mark":{"type":"text","align":"right","baseline":"alphabetic","lineHeight":9},"encoding":{"x":{"datum":1.0856,"axis":null},"y":{"datum":1.023,"axis":null},"text":{"field":"v","type":"nominal"}}},
  {"mark":{"type":"rect","color":"black"},"encoding":{"x":{"datum":-0.107,"axis":null},"x2":{"datum":0.049},"y":{"datum":1.0968,"axis":null},"y2":{"datum":1.0323}}},
  {"mark":{"type":"rect","fill":"white","stroke":"black","strokeWidth":1},"encoding":{"x":{"datum":-0.114,"axis":null},"x2":{"datum":0.042},"y":{"datum":1.1075,"axis":null},"y2":{"datum":1.043}}},
  {"mark":{"type":"text","align":"center","baseline":"alphabetic","fontSize":10},"encoding":{"x":{"datum":-0.036,"axis":null},"y":{"datum":1.0645,"axis":null},"text":{"field":"t","type":"nominal"}}}
 ]}
],"resolve":{"scale":{"x":"independent","y":"independent"}}},
{"width":277,"height":186,"layer":[
 {"data":{"name":"h8"},"layer":[
  {"mark":{"type":"area","color":"#ffff00","interpolate":"step-after","invalid":null},"encoding":{"x":{"field":"x","type":"quantitative","scale":{"domain":[0,500],"nice":false,"zero":false},"axis":{"title":"ADC [ch]","orient":"bottom"}},"y":{"field":"n","type":"quantitative","stack":null,"scale":{"type":"log","domain":[0.538,540000],"nice":false,"clamp":true},"axis":{"title":null,"orient":"left","values":[1,10,100,1000,10000,100000],"labelExpr":"datum.value<5?'1':datum.value<50?'10':'10'+['²','³','⁴','⁵'][round(log(datum.value)/LN10)-2]"}}}},
  {"mark":{"type":"line","color":"black","strokeWidth":1.5,"interpolate":"step-after","invalid":null},"encoding":{"x":{"field":"x","type":"quantitative","axis":{"orient":"bottom","title":null,"labels":false,"domain":false,"tickCount":50,"tickSize":-2.5}},"y":{"field":"n","type":"quantitative","axis":{"orient":"left","title":null,"labels":false,"domain":false,"tickCount":20,"tickSize":-3}}}}
 ],"resolve":{"axis":{"x":"independent","y":"independent"}}},
 {"data":{"name":"st"},"transform":[{"filter":"datum.p==8"}],"layer":[
  {"mark":{"type":"rect","color":"black"},"encoding":{"x":{"datum":0.852,"scale":{"domain":[0,1]},"axis":null},"x2":{"datum":1.111},"y":{"datum":1.1048,"scale":{"domain":[0,1]},"axis":null},"y2":{"datum":0.902}}},
  {"mark":{"type":"rect","fill":"white","stroke":"black","strokeWidth":1},"encoding":{"x":{"datum":0.845,"axis":null},"x2":{"datum":1.1036},"y":{"datum":1.1156,"axis":null},"y2":{"datum":0.913}}},
  {"mark":{"type":"rule","color":"black","strokeWidth":1},"encoding":{"x":{"datum":0.845,"axis":null},"x2":{"datum":1.1036},"y":{"datum":1.0672,"axis":null}}},
  {"mark":{"type":"text","align":"center","baseline":"middle"},"encoding":{"x":{"datum":0.974,"axis":null},"y":{"datum":1.094,"axis":null},"text":{"field":"h","type":"nominal"}}},
  {"mark":{"type":"text","align":"left","baseline":"alphabetic","lineHeight":9},"encoding":{"x":{"datum":0.863,"axis":null},"y":{"datum":1.023,"axis":null},"text":{"value":["Entries","Mean","RMS"]}}},
  {"mark":{"type":"text","align":"right","baseline":"alphabetic","lineHeight":9},"encoding":{"x":{"datum":1.0856,"axis":null},"y":{"datum":1.023,"axis":null},"text":{"field":"v","type":"nominal"}}},
  {"mark":{"type":"rect","color":"black"},"encoding":{"x":{"datum":-0.107,"axis":null},"x2":{"datum":0.049},"y":{"datum":1.0968,"axis":null},"y2":{"datum":1.0323}}},
  {"mark":{"type":"rect","fill":"white","stroke":"black","strokeWidth":1},"encoding":{"x":{"datum":-0.114,"axis":null},"x2":{"datum":0.042},"y":{"datum":1.1075,"axis":null},"y2":{"datum":1.043}}},
  {"mark":{"type":"text","align":"center","baseline":"alphabetic","fontSize":10},"encoding":{"x":{"datum":-0.036,"axis":null},"y":{"datum":1.0645,"axis":null},"text":{"field":"t","type":"nominal"}}}
 ]}
],"resolve":{"scale":{"x":"independent","y":"independent"}}},
{"width":277,"height":186,"layer":[
 {"data":{"name":"h9"},"layer":[
  {"mark":{"type":"area","color":"#ffff00","interpolate":"step-after","invalid":null},"encoding":{"x":{"field":"x","type":"quantitative","scale":{"domain":[0,500],"nice":false,"zero":false},"axis":{"title":"ADC [ch]","orient":"bottom"}},"y":{"field":"n","type":"quantitative","stack":null,"scale":{"type":"log","domain":[0.548,360000],"nice":false,"clamp":true},"axis":{"title":null,"orient":"left","values":[1,10,100,1000,10000,100000],"labelExpr":"datum.value<5?'1':datum.value<50?'10':'10'+['²','³','⁴','⁵'][round(log(datum.value)/LN10)-2]"}}}},
  {"mark":{"type":"line","color":"black","strokeWidth":1.5,"interpolate":"step-after","invalid":null},"encoding":{"x":{"field":"x","type":"quantitative","axis":{"orient":"bottom","title":null,"labels":false,"domain":false,"tickCount":50,"tickSize":-2.5}},"y":{"field":"n","type":"quantitative","axis":{"orient":"left","title":null,"labels":false,"domain":false,"tickCount":20,"tickSize":-3}}}}
 ],"resolve":{"axis":{"x":"independent","y":"independent"}}},
 {"data":{"name":"st"},"transform":[{"filter":"datum.p==9"}],"layer":[
  {"mark":{"type":"rect","color":"black"},"encoding":{"x":{"datum":0.852,"scale":{"domain":[0,1]},"axis":null},"x2":{"datum":1.111},"y":{"datum":1.1048,"scale":{"domain":[0,1]},"axis":null},"y2":{"datum":0.902}}},
  {"mark":{"type":"rect","fill":"white","stroke":"black","strokeWidth":1},"encoding":{"x":{"datum":0.845,"axis":null},"x2":{"datum":1.1036},"y":{"datum":1.1156,"axis":null},"y2":{"datum":0.913}}},
  {"mark":{"type":"rule","color":"black","strokeWidth":1},"encoding":{"x":{"datum":0.845,"axis":null},"x2":{"datum":1.1036},"y":{"datum":1.0672,"axis":null}}},
  {"mark":{"type":"text","align":"center","baseline":"middle"},"encoding":{"x":{"datum":0.974,"axis":null},"y":{"datum":1.094,"axis":null},"text":{"field":"h","type":"nominal"}}},
  {"mark":{"type":"text","align":"left","baseline":"alphabetic","lineHeight":9},"encoding":{"x":{"datum":0.863,"axis":null},"y":{"datum":1.023,"axis":null},"text":{"value":["Entries","Mean","RMS"]}}},
  {"mark":{"type":"text","align":"right","baseline":"alphabetic","lineHeight":9},"encoding":{"x":{"datum":1.0856,"axis":null},"y":{"datum":1.023,"axis":null},"text":{"field":"v","type":"nominal"}}},
  {"mark":{"type":"rect","color":"black"},"encoding":{"x":{"datum":-0.107,"axis":null},"x2":{"datum":0.049},"y":{"datum":1.0968,"axis":null},"y2":{"datum":1.0323}}},
  {"mark":{"type":"rect","fill":"white","stroke":"black","strokeWidth":1},"encoding":{"x":{"datum":-0.114,"axis":null},"x2":{"datum":0.042},"y":{"datum":1.1075,"axis":null},"y2":{"datum":1.043}}},
  {"mark":{"type":"text","align":"center","baseline":"alphabetic","fontSize":10},"encoding":{"x":{"datum":-0.036,"axis":null},"y":{"datum":1.0645,"axis":null},"text":{"field":"t","type":"nominal"}}}
 ]}
],"resolve":{"scale":{"x":"independent","y":"independent"}}}
],
"config":{
 "font":"Liberation Sans",
 "view":{"stroke":"black","strokeWidth":1,"fill":"white"},
 "text":{"fontWeight":"bold","fontSize":8,"color":"black"},
 "axis":{"domainColor":"black","domainWidth":1,"tickColor":"black","tickWidth":1,"labelColor":"black","labelFont":"Liberation Sans","labelFontWeight":"bold","labelFontSize":7,"titleFont":"Liberation Sans","titleFontWeight":"bold","titleFontSize":8.3,"titleColor":"black","grid":false,"zindex":1,"labelFlush":false,"labelOverlap":false,"labelBound":false},
 "axisX":{"tickSize":-5,"labelPadding":7.5,"tickCount":10,"titleAnchor":"end","titlePadding":1.5,"labelBaseline":"top"},
 "axisY":{"tickSize":-6,"labelPadding":11,"labelFontSize":8}
}
}
